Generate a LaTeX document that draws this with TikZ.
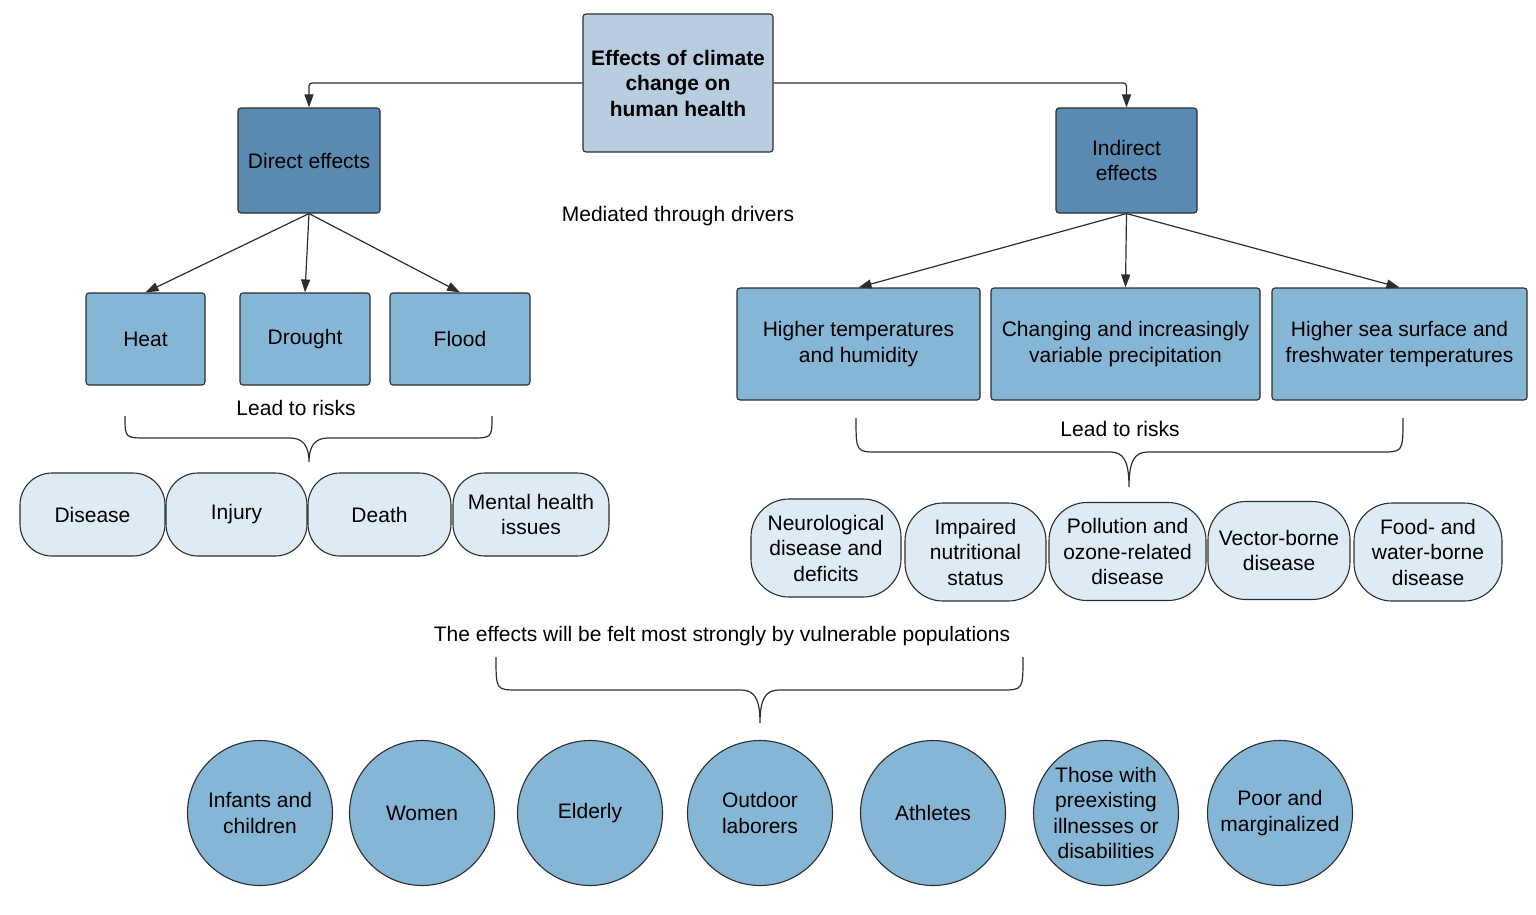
\documentclass[tikz,border=0pt]{standalone}
\usepackage{fontspec}
\setmainfont{Liberation Sans}
\usetikzlibrary{arrows.meta,positioning,shapes.geometric}
\definecolor{mist}{RGB}{184,205,224}
\definecolor{steel}{RGB}{90,138,178}
\definecolor{sky}{RGB}{133,182,214}
\definecolor{frost}{RGB}{222,235,244}
\definecolor{edge}{RGB}{45,45,45}
% curly brace: x left, x right, y top, y middle, tip x, tip y
\newcommand{\riskbrace}[6]{%
  \draw[bracel] (#1,#3) .. controls (#1,#4) and (#1,#4) .. (#1+22,#4) -- (#5-19,#4)
    .. controls (#5-6,#4) and (#5,#4+8) .. (#5,#6)
    .. controls (#5,#4+8) and (#5+6,#4) .. (#5+19,#4) -- (#2-22,#4)
    .. controls (#2,#4) and (#2,#4) .. (#2,#3);}

\begin{document}
\begin{tikzpicture}[x=1pt,y=-1pt,
    every node/.style={font=\fontsize{21}{25.5}\selectfont,align=center},
    box/.style={draw=edge,line width=1.1pt,rounded corners=3pt,inner sep=2pt},
    topbox/.style={box,fill=mist,font=\fontsize{21}{25.5}\selectfont\bfseries},
    effectbox/.style={box,fill=steel},
    driverbox/.style={box,fill=sky},
    riskbox/.style={draw=edge,line width=1.1pt,fill=frost,inner sep=2pt},
    popcircle/.style={circle,draw=edge,line width=1.1pt,fill=sky,inner sep=0pt,minimum size=145pt},
    flow/.style={draw=edge,line width=1.2pt,-{Triangle[length=13pt,width=9pt]}},
    bracel/.style={draw=edge,line width=1.2pt}]
  \useasboundingbox (0,0) rectangle (1536,914);

  \node[topbox,minimum width=190pt,minimum height=138pt] (top) at (678,83) {Effects of climate\\change on\\human health};
  \node[effectbox,minimum width=142pt,minimum height=105pt] (direct) at (309,160.5) {Direct effects};
  \node[effectbox,minimum width=141pt,minimum height=105pt] (indirect) at (1126.5,160.5) {Indirect\\effects};
  \draw[flow,rounded corners=3pt] (top.west) -| (direct.north);
  \draw[flow,rounded corners=3pt] (top.east) -| (indirect.north);

  \node (medi) at (678,216) {Mediated through drivers};

  % direct drivers
  \foreach \t/\x/\w [count=\i] in {Heat/145.5/119pt,Drought/305/130pt,Flood/460/140pt}
  {
    \node[driverbox,minimum width=\w,minimum height=92pt] (dd\i) at (\x,339) {\t};
    \draw[flow] (direct.south) -- (dd\i.north);
  }

  % indirect drivers
  \foreach \t/\x/\w [count=\i] in {
    Higher temperatures\\and humidity/858.5/243pt,
    Changing and increasingly\\variable precipitation/1125.5/269pt,
    Higher sea surface and\\freshwater temperatures/1399.5/255pt}
  {
    \node[driverbox,minimum width=\w,minimum height=112pt] (id\i) at (\x,344) {\t};
    \draw[flow] (indirect.south) -- (id\i.north);
  }

  \node (leadl) at (296,408) {Lead to risks};
  \riskbrace{125}{492}{416}{438}{309}{462}
  \node (leadr) at (1120,429) {Lead to risks};
  \riskbrace{856}{1403}{418}{452}{1129}{487}

  % direct risks
  \foreach \t/\x/\w [count=\i] in {Disease/92.5/145pt,Injury/236.5/141pt,Death/379.5/143pt,Mental health\\issues/531/156pt}
    \node[riskbox,rounded corners=32pt,minimum width=\w,minimum height=83pt] (dr\i) at (\x,514.5) {\t};

  % indirect risks
  \foreach \t/\x/\y/\w [count=\i] in {
    Neurological\\disease and\\deficits/826/548/150pt,
    Impaired\\nutritional\\status/975.5/552/141pt,
    Pollution and\\ozone-related\\disease/1127.5/551.5/157pt,
    Vector-borne\\disease/1279/550.5/142pt,
    Food- and\\water-borne\\disease/1428/552/148pt}
    \node[riskbox,rounded corners=38pt,minimum width=\w,minimum height=98pt] (ir\i) at (\x,\y) {\t};

  \node (vuln) at (722,636) {The effects will be felt most strongly by vulnerable populations};
  \riskbrace{496}{1023}{657}{690}{760}{723}

  % vulnerable groups
  \foreach \t/\x [count=\i] in {
    Infants and\\children/260,Women/422,Elderly/590,Outdoor\\laborers/760,
    Athletes/933,Those with\\preexisting\\illnesses or\\disabilities/1106,Poor and\\marginalized/1280}
    \node[popcircle] (pop\i) at (\x,813) {\t};
\end{tikzpicture}
\end{document}
